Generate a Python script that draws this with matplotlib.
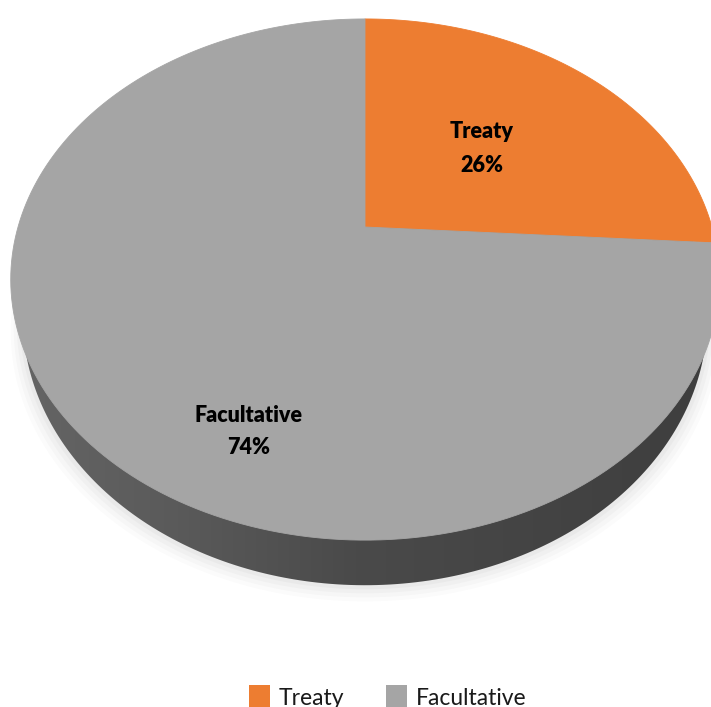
import numpy as np
import matplotlib.pyplot as plt
from matplotlib.patches import Polygon, Rectangle
from matplotlib.colors import LinearSegmentedColormap

# Data
labels = ['Treaty', 'Facultative']
shares = [26, 74]
colors = ['#ED7D31', '#A5A5A5']

# Projection of the tilted pie (pixel space)
cx, cy = 365, 227      # where the pie centre lands
a, b = 347, 250        # radii before perspective
k = 0.2016             # perspective strength
depth = 36             # thickness of the pie
shrink = 0.966         # bottom rim is a bit further away -> narrower


def project(u, v, drop=0.0, sx=1.0):
    w = 1 + k * v
    return cx + sx * a * u / w, cy - b * v / w + drop / w


def arc(t0, t1, n=200, drop=0.0, sx=1.0):
    t = np.linspace(t0, t1, n)
    return project(np.cos(t), np.sin(t), drop, sx)


fig = plt.figure(figsize=(7.11, 7.07), dpi=100)
ax = fig.add_axes([0, 0, 1, 1])
ax.set_xlim(0, 711)
ax.set_ylim(707, 0)
ax.axis('off')
plt.rcParams['font.family'] = ['Lato', 'DejaVu Sans']

# soft shadow under the pie
for i, al in enumerate([0.04, 0.05, 0.06, 0.07]):
    grow = 14 - i * 3.5
    x, y = arc(0, 2 * np.pi, 300, drop=depth + grow * 0.6, sx=shrink)
    xc = x.mean()
    ax.add_patch(Polygon(np.column_stack([xc + (x - xc) * (1 + grow / 400), y + grow * 0.4]),
                         closed=True, facecolor='#9a9a9a', edgecolor='none', alpha=al, zorder=1))

# side wall: bottom rim, mostly hidden by the top surface
xb, yb = arc(0, 2 * np.pi, 400, drop=depth, sx=shrink)
side = Polygon(np.column_stack([xb, yb]), closed=True, facecolor='none', edgecolor='none', zorder=2)
ax.add_patch(side)
cmap = LinearSegmentedColormap.from_list('side', ['#666666', '#5a5a5a', '#4a4a4a', '#444444', '#3e3e3e'])
grad = np.linspace(0, 1, 512).reshape(1, -1)
img = ax.imshow(grad, cmap=cmap, extent=[0, 711, 707, 0], aspect='auto', zorder=2)
img.set_clip_path(side)

# top surface wedges (clockwise from 12 o'clock)
start = np.pi / 2
for share, col in zip(shares, colors):
    sweep = 2 * np.pi * share / sum(shares)
    x, y = arc(start - sweep, start)
    pts = np.column_stack([np.r_[cx, x], np.r_[cy, y]])
    ax.add_patch(Polygon(pts, closed=True, facecolor=col, edgecolor=col, linewidth=0.6, zorder=3))
    start -= sweep

# wedge labels
lab_style = dict(ha='center', va='center', fontsize=15.5, fontweight='heavy', color='black', zorder=4)
ax.text(482, 131, labels[0], **lab_style)
ax.text(482, 165, f'{shares[0]}%', **lab_style)
ax.text(249, 415, labels[1], **lab_style)
ax.text(249, 448, f'{shares[1]}%', **lab_style)

# legend
legend_x = [249, 386]
for lx, lab, col in zip(legend_x, labels, colors):
    ax.add_patch(Rectangle((lx, 685), 21, 24, facecolor=col, edgecolor='none', zorder=4))
    ax.text(lx + 30, 705, lab, ha='left', va='baseline', fontsize=16.5, color='#1a1a1a', zorder=4)

fig.savefig('out.png', dpi=100)
